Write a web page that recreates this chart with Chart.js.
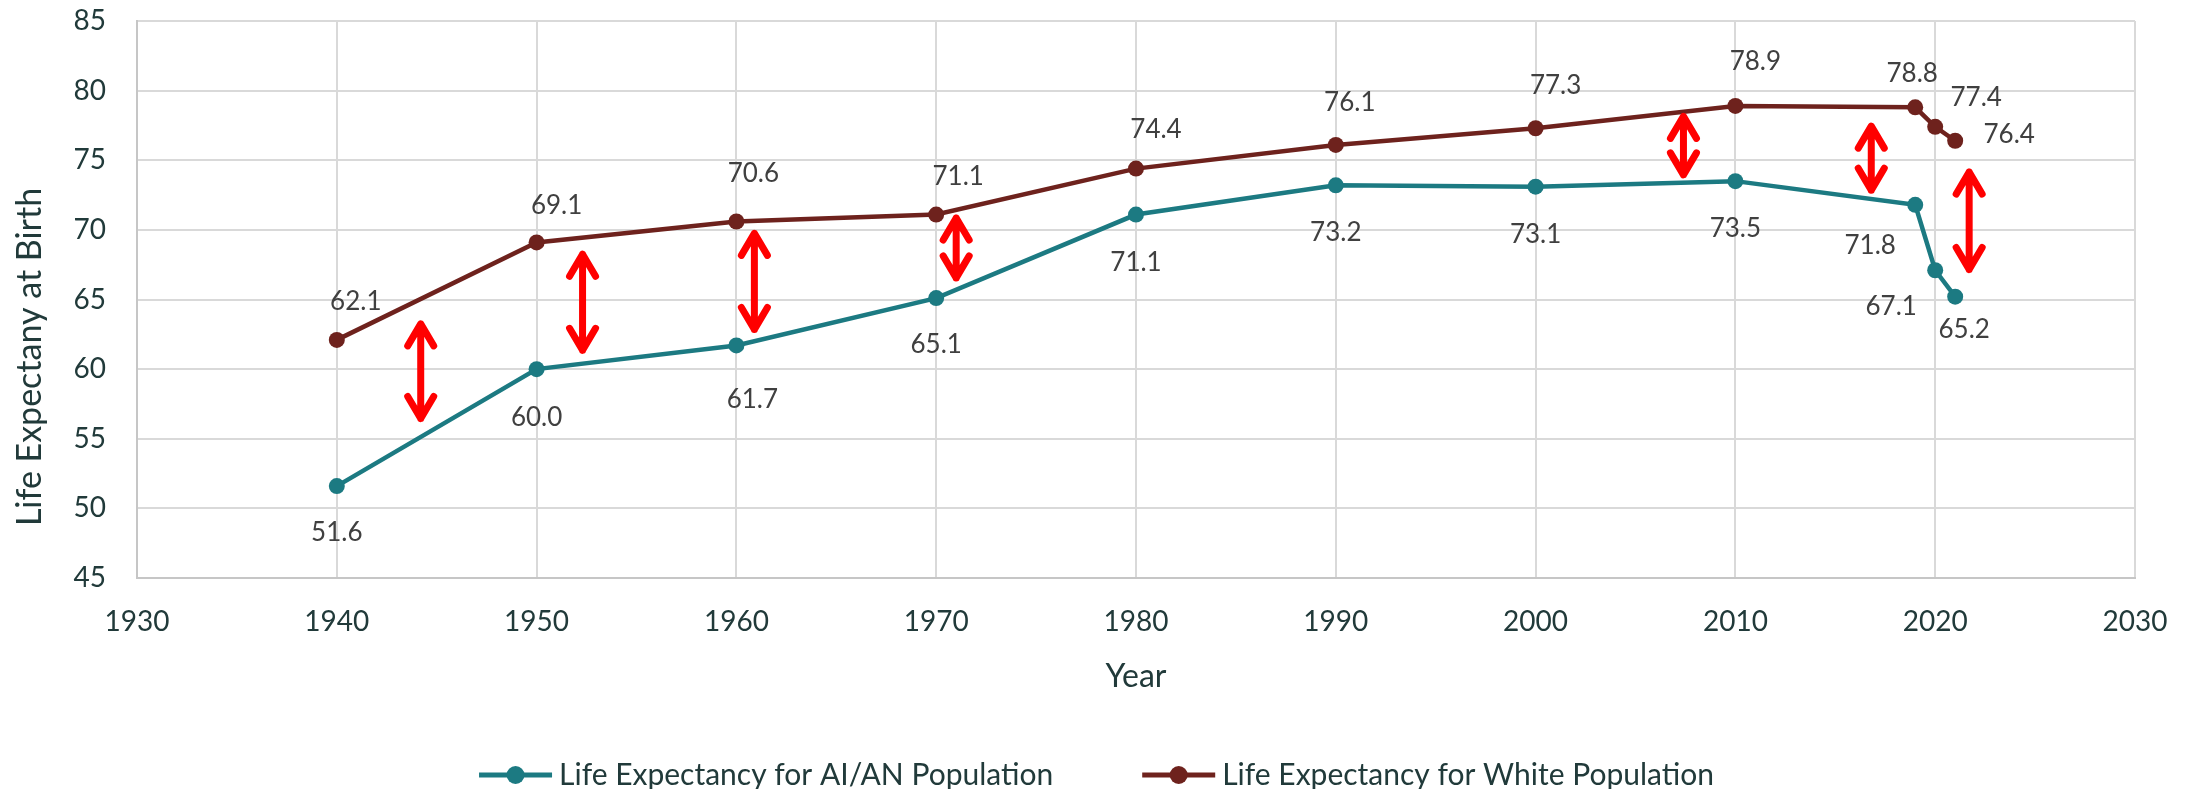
<!DOCTYPE html>
<html>
<head>
<meta charset="utf-8">
<script src="https://cdn.jsdelivr.net/npm/chart.js@4.4.1/dist/chart.umd.min.js"></script>
<style>
  html, body { margin: 0; padding: 0; background: #fff; }
</style>
</head>
<body>
<canvas id="grafico" width="2193" height="789"></canvas>
<script>
// datos
const anios = [1940, 1950, 1960, 1970, 1980, 1990, 2000, 2010, 2019, 2020, 2021];
const esperanzaAian = [51.6, 60.0, 61.7, 65.1, 71.1, 73.2, 73.1, 73.5, 71.8, 67.1, 65.2];
const esperanzaBlanca = [62.1, 69.1, 70.6, 71.1, 74.4, 76.1, 77.3, 78.9, 78.8, 77.4, 76.4];
const ticksX = [1930, 1940, 1950, 1960, 1970, 1980, 1990, 2000, 2010, 2020, 2030];
const ticksY = [45, 50, 55, 60, 65, 70, 75, 80, 85];
const nombres = ['Life Expectancy for AI/AN Population', 'Life Expectancy for White Population'];

// flechas rojas (año, valor arriba, valor abajo)
const flechaAnio = [1944.2, 1952.3, 1960.9, 1971.0, 2007.4, 2016.8, 2021.7];
const flechaArriba = [63.5, 68.5, 70.0, 71.1, 78.4, 77.7, 74.4];
const flechaAbajo = [56.2, 61.1, 62.6, 66.3, 73.7, 72.6, 66.9];

// desplazamiento de etiquetas en px (estilo)
const despAian = [[0,47],[0,48],[16,54],[0,47],[0,48],[0,47],[0,48],[0,47],[-45,41],[-44,36],[9,33]];
const despBlanca = [[19,-38],[20,-37],[17,-48],[22,-38],[20,-39],[14,-42],[20,-43],[20,-44],[-3,-34],[41,-29],[54,-6]];

const colorAian = '#1c7a82';
const colorBlanca = '#6e221d';
const colorTexto = '#213a3a';
const fuente = 'Lato';

const etiquetas = {
    id: 'etiquetas',
    afterDatasetsDraw(chart) {
        const ctx = chart.ctx;
        const {x, y} = chart.scales;
        // flechas
        ctx.save();
        ctx.strokeStyle = '#ff0000';
        ctx.lineWidth = 7;
        ctx.lineCap = 'round';
        ctx.lineJoin = 'round';
        flechaAnio.forEach((a, i) => {
            const px = x.getPixelForValue(a);
            const y1 = y.getPixelForValue(flechaArriba[i]) + 3.5;
            const y2 = y.getPixelForValue(flechaAbajo[i]) - 3.5;
            ctx.beginPath();
            ctx.moveTo(px, y1);
            ctx.lineTo(px, y2);
            ctx.moveTo(px - 13, y1 + 22);
            ctx.lineTo(px, y1);
            ctx.lineTo(px + 13, y1 + 22);
            ctx.moveTo(px - 13, y2 - 22);
            ctx.lineTo(px, y2);
            ctx.lineTo(px + 13, y2 - 22);
            ctx.stroke();
        });
        // etiquetas de datos
        ctx.font = `26px ${fuente}`;
        ctx.fillStyle = '#404040';
        ctx.textAlign = 'center';
        ctx.textBaseline = 'middle';
        [despAian, despBlanca].forEach((desp, d) => {
            const meta = chart.getDatasetMeta(d);
            const valores = chart.data.datasets[d].data;
            meta.data.forEach((el, i) => {
                ctx.fillText(valores[i].y.toFixed(1), el.x + desp[i][0], el.y + desp[i][1]);
            });
        });
        ctx.restore();
    },
    afterDraw(chart) {
        const ctx = chart.ctx;
        ctx.save();
        // titulo eje y
        ctx.translate(30, 357);
        ctx.rotate(-Math.PI / 2);
        ctx.font = `34px ${fuente}`;
        ctx.fillStyle = colorTexto;
        ctx.textAlign = 'center';
        ctx.textBaseline = 'middle';
        ctx.fillText('Life Expectany at Birth', 0, 0);
        ctx.restore();

        // leyenda
        ctx.save();
        ctx.font = `30px ${fuente}`;
        ctx.textBaseline = 'middle';
        ctx.textAlign = 'left';
        const largoLinea = 73, hueco = 7, separacion = 89;
        const anchos = nombres.map(n => ctx.measureText(n).width);
        const total = anchos.reduce((s, w) => s + largoLinea + hueco + w, 0) + separacion;
        let cx = chart.width / 2 - total / 2;
        const cy = 775;
        chart.data.datasets.forEach((ds, i) => {
            ctx.strokeStyle = ds.borderColor;
            ctx.lineWidth = 5;
            ctx.beginPath();
            ctx.moveTo(cx, cy);
            ctx.lineTo(cx + largoLinea, cy);
            ctx.stroke();
            ctx.fillStyle = ds.borderColor;
            ctx.beginPath();
            ctx.arc(cx + largoLinea / 2, cy, 9, 0, Math.PI * 2);
            ctx.fill();
            ctx.fillStyle = colorTexto;
            ctx.fillText(nombres[i], cx + largoLinea + hueco, cy);
            cx += largoLinea + hueco + anchos[i] + separacion;
        });
        ctx.restore();
    }
};

new Chart(document.getElementById('grafico'), {
    type: 'line',
    data: {
        datasets: [
            {
                label: nombres[0],
                data: anios.map((a, i) => ({x: a, y: esperanzaAian[i]})),
                borderColor: colorAian,
                backgroundColor: colorAian,
                borderWidth: 4.5,
                pointRadius: 8,
                pointBorderWidth: 0,
                tension: 0
            },
            {
                label: nombres[1],
                data: anios.map((a, i) => ({x: a, y: esperanzaBlanca[i]})),
                borderColor: colorBlanca,
                backgroundColor: colorBlanca,
                borderWidth: 4.5,
                pointRadius: 8,
                pointBorderWidth: 0,
                tension: 0
            }
        ]
    },
    options: {
        responsive: false,
        animation: false,
        layout: { padding: { top: 21, right: 58, bottom: 93, left: 0 } },
        plugins: { legend: { display: false }, tooltip: { enabled: false } },
        scales: {
            x: {
                type: 'linear',
                min: 1930,
                max: 2030,
                afterBuildTicks: s => { s.ticks = ticksX.map(v => ({value: v})); },
                afterFit: s => { s.height = 118; s.paddingLeft = 0; s.paddingRight = 0; },
                ticks: {
                    callback: v => String(v),
                    color: colorTexto,
                    font: { family: fuente, size: 28 },
                    padding: 27
                },
                grid: { color: '#d9d9d9', lineWidth: 2, drawTicks: false },
                border: { color: '#c6c6c6', width: 2 },
                title: {
                    display: true,
                    text: 'Year',
                    color: colorTexto,
                    font: { family: fuente, size: 32 },
                    padding: { top: 0, bottom: 0 }
                }
            },
            y: {
                min: 45,
                max: 85,
                afterBuildTicks: s => { s.ticks = ticksY.map(v => ({value: v})); },
                afterFit: s => { s.width = 137; s.paddingTop = 0; s.paddingBottom = 0; },
                ticks: {
                    color: colorTexto,
                    font: { family: fuente, size: 28 },
                    padding: 31
                },
                grid: { color: '#d9d9d9', lineWidth: 2, drawTicks: false },
                border: { color: '#c6c6c6', width: 2 }
            }
        }
    },
    plugins: [etiquetas]
});
</script>
</body>
</html>
